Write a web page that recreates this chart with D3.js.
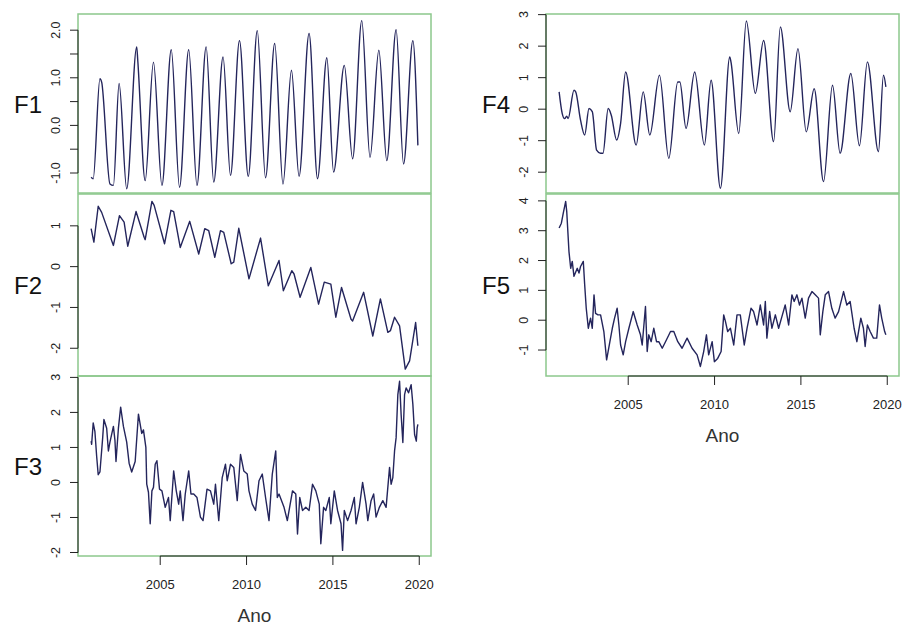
<!DOCTYPE html>
<html>
<head>
<meta charset="utf-8">
<script src="https://cdn.jsdelivr.net/npm/d3@7"></script>
<style>
  body { margin: 0; background: #fff; }
  svg { display: block; font-family: "Liberation Sans", Arial, sans-serif; }
</style>
</head>
<body>
<svg width="902" height="628"></svg>
<script>
// series: [decimal year, value]
const f1 = [[2001.00,-1.09],[2001.12,-1.12],[2001.51,0.98],[2001.61,0.91],[2002.09,-1.23],[2002.29,-1.26],[2002.62,0.88],[2003.06,-1.33],[2003.64,1.65],[2003.70,1.37],[2004.13,-1.16],[2004.61,1.33],[2005.10,-1.26],[2005.64,1.59],[2006.12,-1.30],[2006.65,1.59],[2007.13,-1.26],[2007.66,1.65],[2008.10,-1.19],[2008.64,1.44],[2009.07,-1.05],[2009.59,1.78],[2010.10,-1.07],[2010.62,1.99],[2011.10,-1.10],[2011.63,1.72],[2012.11,-1.23],[2012.60,1.16],[2013.04,-1.07],[2013.62,1.93],[2014.11,-1.12],[2014.65,1.42],[2015.04,-0.98],[2015.66,1.26],[2016.14,-0.70],[2016.67,2.20],[2017.15,-0.67],[2017.66,1.58],[2018.12,-0.74],[2018.66,2.01],[2019.09,-0.81],[2019.63,1.78],[2019.92,-0.42]];

const f2 = [[2001.00,0.93],[2001.16,0.60],[2001.41,1.48],[2001.61,1.33],[2002.29,0.52],[2002.64,1.25],[2002.91,1.09],[2003.12,0.50],[2003.60,1.35],[2004.07,0.72],[2004.13,0.66],[2004.52,1.60],[2004.65,1.50],[2005.25,0.56],[2005.62,1.38],[2005.78,1.35],[2006.16,0.47],[2006.71,1.11],[2007.23,0.31],[2007.58,0.93],[2007.81,0.88],[2008.16,0.23],[2008.49,0.88],[2008.68,0.84],[2009.11,0.07],[2009.26,0.11],[2009.55,0.94],[2010.14,-0.30],[2010.81,0.70],[2011.26,-0.47],[2011.88,0.15],[2012.13,-0.59],[2012.62,-0.10],[2012.75,-0.18],[2013.10,-0.75],[2013.72,-0.02],[2014.17,-0.92],[2014.50,-0.38],[2014.88,-0.43],[2015.17,-1.24],[2015.50,-0.51],[2016.05,-1.29],[2016.14,-1.33],[2016.78,-0.63],[2017.31,-1.70],[2017.75,-0.79],[2018.18,-1.61],[2018.33,-1.57],[2018.57,-1.24],[2018.86,-1.45],[2019.19,-2.51],[2019.44,-2.31],[2019.79,-1.37],[2019.92,-1.94]];

const f3 = [[2001.00,1.18],[2001.03,1.09],[2001.12,1.70],[2001.22,1.45],[2001.32,0.75],[2001.41,0.22],[2001.51,0.30],[2001.67,1.28],[2001.74,1.80],[2001.90,1.55],[2002.00,0.90],[2002.09,1.15],[2002.29,1.60],[2002.38,1.20],[2002.44,0.60],[2002.58,1.55],[2002.71,2.15],[2002.87,1.60],[2003.06,1.15],[2003.20,0.55],[2003.35,0.30],[2003.55,0.60],[2003.74,1.95],[2003.93,1.40],[2004.03,1.50],[2004.17,1.00],[2004.22,-0.05],[2004.32,-0.28],[2004.42,-1.18],[2004.52,-0.24],[2004.61,-0.14],[2004.71,0.52],[2004.81,0.62],[2004.96,-0.19],[2005.10,-0.24],[2005.29,-0.71],[2005.48,-0.43],[2005.58,-1.09],[2005.78,0.33],[2005.93,-0.24],[2006.07,-0.62],[2006.16,-0.24],[2006.32,-1.09],[2006.45,-0.33],[2006.65,0.33],[2006.78,-0.33],[2006.94,-0.33],[2007.13,-0.43],[2007.33,-0.99],[2007.48,-1.09],[2007.71,-0.19],[2007.91,-0.24],[2008.10,-0.62],[2008.20,-0.05],[2008.39,-1.09],[2008.59,0.14],[2008.78,0.52],[2008.88,0.05],[2009.07,0.52],[2009.26,0.43],[2009.46,-0.52],[2009.65,0.80],[2009.84,0.33],[2010.04,0.24],[2010.14,-0.24],[2010.33,-0.62],[2010.52,-0.80],[2010.72,0.05],[2010.91,0.24],[2011.10,-0.43],[2011.30,-1.09],[2011.49,0.24],[2011.69,0.90],[2011.78,-0.43],[2011.88,-0.33],[2012.17,-0.71],[2012.36,-1.09],[2012.66,-0.24],[2012.85,-0.33],[2012.95,-1.47],[2013.08,-0.43],[2013.24,-0.80],[2013.43,-0.71],[2013.62,-0.80],[2013.82,-0.05],[2014.01,-0.24],[2014.21,-0.62],[2014.30,-1.75],[2014.46,-0.71],[2014.59,-0.80],[2014.79,-0.43],[2014.88,-1.18],[2015.08,-0.24],[2015.27,-0.80],[2015.47,-1.18],[2015.56,-1.94],[2015.66,-0.80],[2015.85,-1.09],[2016.05,-0.80],[2016.24,-0.43],[2016.34,-1.18],[2016.53,-0.71],[2016.72,0.00],[2016.92,-0.62],[2017.02,-1.09],[2017.21,-0.52],[2017.36,-0.33],[2017.50,-0.99],[2017.69,-0.71],[2017.89,-0.52],[2018.08,-0.71],[2018.28,0.43],[2018.37,-0.05],[2018.47,0.14],[2018.57,0.90],[2018.66,1.28],[2018.76,2.51],[2018.86,2.89],[2018.95,1.94],[2019.01,1.47],[2019.05,1.14],[2019.15,2.51],[2019.24,2.70],[2019.38,2.56],[2019.53,2.79],[2019.63,2.23],[2019.73,1.37],[2019.83,1.18],[2019.88,1.56],[2019.92,1.66]];

const f4 = [[2001.00,0.55],[2001.18,-0.14],[2001.32,-0.30],[2001.44,-0.22],[2001.52,-0.30],[2001.86,0.60],[2001.96,0.55],[2002.24,-0.35],[2002.48,-0.82],[2002.73,0.02],[2002.92,-0.08],[2003.17,-1.30],[2003.40,-1.40],[2003.54,-1.40],[2003.84,0.02],[2004.02,-0.19],[2004.33,-0.98],[2004.56,-0.45],[2004.85,1.18],[2005.46,-1.14],[2005.87,0.55],[2006.25,-0.82],[2006.81,1.08],[2007.35,-1.56],[2007.87,0.86],[2007.99,0.86],[2008.35,-0.61],[2008.85,1.18],[2009.41,-1.14],[2009.80,0.92],[2010.34,-2.51],[2010.88,1.66],[2010.95,1.50],[2011.40,-0.77],[2011.84,2.80],[2012.36,0.50],[2012.84,2.18],[2013.42,-1.03],[2013.81,2.61],[2014.38,-0.08],[2014.83,1.92],[2015.31,-0.72],[2015.77,0.65],[2016.31,-2.30],[2016.83,0.76],[2017.27,-1.40],[2017.89,1.13],[2018.39,-1.16],[2018.85,1.50],[2019.49,-1.35],[2019.78,1.08],[2019.92,0.71]];

const f5 = [[2001.00,3.09],[2001.13,3.25],[2001.24,3.59],[2001.38,3.98],[2001.44,3.65],[2001.57,2.30],[2001.67,1.74],[2001.76,1.97],[2001.86,1.47],[2002.05,1.74],[2002.15,1.58],[2002.24,1.80],[2002.40,1.97],[2002.48,1.19],[2002.57,0.40],[2002.69,-0.27],[2002.82,0.07],[2002.92,-0.27],[2003.02,0.85],[2003.11,0.23],[2003.25,0.18],[2003.40,0.18],[2003.59,-0.38],[2003.75,-1.33],[2003.94,-0.72],[2004.08,-0.27],[2004.21,0.07],[2004.36,0.40],[2004.46,-0.16],[2004.56,-0.83],[2004.71,-1.16],[2004.85,-0.72],[2005.04,-0.27],[2005.29,0.29],[2005.52,-0.16],[2005.71,-0.49],[2005.81,-0.83],[2006.00,0.46],[2006.10,-1.05],[2006.19,-0.49],[2006.33,-0.72],[2006.48,-0.27],[2006.64,-0.72],[2006.77,-0.72],[2006.97,-0.94],[2007.16,-0.72],[2007.45,-0.38],[2007.64,-0.38],[2007.87,-0.72],[2008.12,-0.94],[2008.41,-0.60],[2008.70,-0.94],[2008.99,-1.16],[2009.18,-1.55],[2009.37,-1.05],[2009.53,-0.49],[2009.66,-1.16],[2009.86,-0.72],[2009.99,-1.39],[2010.18,-1.28],[2010.38,-1.05],[2010.53,0.18],[2010.63,-0.04],[2010.76,-0.38],[2010.92,-0.27],[2011.11,-0.83],[2011.30,0.18],[2011.49,0.18],[2011.72,-0.83],[2011.88,-0.27],[2012.11,0.40],[2012.26,0.29],[2012.46,-0.16],[2012.65,0.51],[2012.84,-0.16],[2012.94,0.63],[2013.03,-0.60],[2013.19,0.29],[2013.32,-0.27],[2013.52,0.18],[2013.71,-0.27],[2013.90,0.12],[2014.09,0.51],[2014.29,-0.16],[2014.48,0.85],[2014.61,0.63],[2014.77,0.85],[2014.92,0.51],[2015.06,0.74],[2015.25,0.07],[2015.44,0.74],[2015.64,0.96],[2015.83,0.85],[2016.02,0.74],[2016.12,-0.49],[2016.27,0.29],[2016.41,0.85],[2016.60,0.96],[2016.79,0.40],[2016.98,0.07],[2017.18,0.29],[2017.47,0.96],[2017.66,0.51],[2017.85,0.63],[2018.08,-0.27],[2018.24,-0.72],[2018.47,0.07],[2018.62,-0.27],[2018.72,-0.88],[2018.85,-0.16],[2019.01,-0.38],[2019.20,-0.60],[2019.39,-0.60],[2019.55,0.51],[2019.68,0.07],[2019.85,-0.38],[2019.92,-0.49]];

const yearTicks = [2005, 2010, 2015, 2020];
const f1Ticks = [-1, -0.5, 0, 0.5, 1, 1.5, 2];
const f1Labels = [-1, 0, 1, 2];   // R drops the half-step labels
const xTitle = "Ano";

const svg = d3.select("svg");
const boxColor = "#8cc88c";
const lineColor = "#24255c";

// panel frames
const panels = [
  { name: "F1", data: f1, col: 0, top: 14,  bottom: 193, domain: [-1.42, 2.34], ticks: f1Ticks, labels: f1Labels, fmt: d3.format(".1f"), curve: d3.curveMonotoneX },
  { name: "F2", data: f2, col: 0, top: 194, bottom: 376, domain: [-2.68, 1.78], ticks: [-2, -1, 0, 1], curve: d3.curveLinear },
  { name: "F3", data: f3, col: 0, top: 376, bottom: 556, domain: [-2.10, 3.04], ticks: [-2, -1, 0, 1, 2, 3], curve: d3.curveLinear, xaxis: true },
  { name: "F4", data: f4, col: 1, top: 14,  bottom: 193, domain: [-2.66, 3.02], ticks: [-2, -1, 0, 1, 2, 3], curve: d3.curveMonotoneX },
  { name: "F5", data: f5, col: 1, top: 194, bottom: 376, domain: [-1.87, 4.23], ticks: [-1, 0, 1, 2, 3, 4], curve: d3.curveLinear, xaxis: true }
];
const cols = [{ left: 78, right: 431 }, { left: 546, right: 899 }];

panels.forEach(p => {
  const c = cols[p.col];
  const x = d3.scaleLinear().domain([2000.24, 2020.68]).range([c.left, c.right]);
  const y = d3.scaleLinear().domain(p.domain).range([p.bottom, p.top]);

  // caixa verde
  svg.append("rect")
    .attr("x", c.left).attr("y", p.top)
    .attr("width", c.right - c.left).attr("height", p.bottom - p.top)
    .attr("fill", "none").attr("stroke", boxColor).attr("stroke-width", 1.5);

  // eixo y
  const fmt = p.fmt || d3.format("d");
  const labels = p.labels || p.ticks;
  const ya = svg.append("g").attr("transform", `translate(${c.left},0)`);
  ya.append("line")
    .attr("y1", y(d3.min(p.ticks))).attr("y2", y(d3.max(p.ticks)))
    .attr("stroke", "#222");
  ya.selectAll("line.tick").data(p.ticks).enter().append("line")
    .attr("class", "tick")
    .attr("x1", 0).attr("x2", -8)
    .attr("y1", d => y(d)).attr("y2", d => y(d))
    .attr("stroke", "#222");
  ya.selectAll("text").data(labels).enter().append("text")
    .attr("transform", d => `translate(-18,${y(d)}) rotate(-90)`)
    .attr("text-anchor", "middle")
    .attr("font-size", 12.5)
    .attr("fill", "#222")
    .text(d => fmt(d).replace("\u2212", "-"));

  // série
  const line = d3.line().x(d => x(d[0])).y(d => y(d[1])).curve(p.curve);
  svg.append("path")
    .datum(p.data)
    .attr("d", line)
    .attr("fill", "none")
    .attr("stroke", lineColor)
    .attr("stroke-width", 1.4)
    .attr("stroke-linejoin", "round");

  // rótulo da série
  svg.append("text")
    .attr("x", c.left - 36).attr("y", (p.top + p.bottom) / 2 + 9)
    .attr("text-anchor", "end")
    .attr("font-size", 24)
    .attr("fill", "#111")
    .text(p.name);

  if (p.xaxis) {
    const xa = svg.append("g").attr("transform", `translate(0,${p.bottom})`);
    xa.append("line")
      .attr("x1", x(yearTicks[0])).attr("x2", x(yearTicks[yearTicks.length - 1]))
      .attr("stroke", "#222");
    xa.selectAll("line.tick").data(yearTicks).enter().append("line")
      .attr("class", "tick")
      .attr("x1", d => x(d)).attr("x2", d => x(d))
      .attr("y1", 0).attr("y2", 9)
      .attr("stroke", "#222");
    xa.selectAll("text").data(yearTicks).enter().append("text")
      .attr("x", d => x(d)).attr("y", 33)
      .attr("text-anchor", "middle")
      .attr("font-size", 13)
      .attr("fill", "#222")
      .text(d => d);
    xa.append("text")
      .attr("x", (c.left + c.right) / 2).attr("y", 66)
      .attr("text-anchor", "middle")
      .attr("font-size", 19)
      .attr("fill", "#333")
      .text(xTitle);
  }
});
</script>
</body>
</html>
